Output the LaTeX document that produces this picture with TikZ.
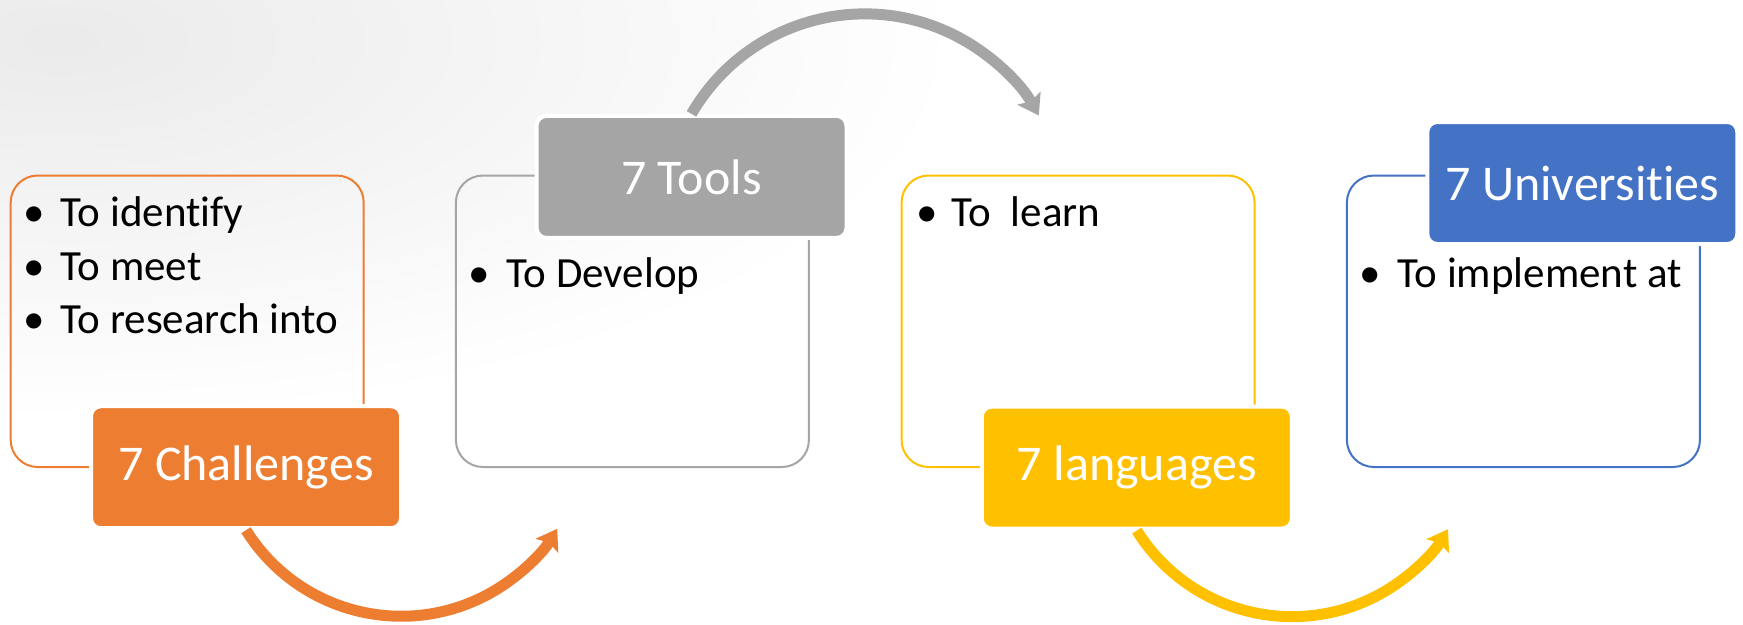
\documentclass[tikz,border=0pt]{standalone}
\usepackage{fontspec}
\setmainfont{Carlito}[Ligatures=NoCommon]
\usetikzlibrary{arrows.meta}
\definecolor{corange}{HTML}{ED7D31}
\definecolor{cgray}{HTML}{A5A5A5}
\definecolor{cyellow}{HTML}{FFC000}
\definecolor{cblue}{HTML}{4472C4}
\tikzset{
  box/.style={draw=#1, line width=2pt, rounded corners=27pt, minimum width=353pt, minimum height=291.5pt, inner sep=0pt},
  lab/.style={fill=#1, draw=white, line width=4pt, rounded corners=10pt, minimum width=310pt, minimum height=122pt, inner sep=0pt, text=white, font=\fontsize{50}{60}\selectfont},
  bul/.style={anchor=base, inner sep=0pt, font=\fontsize{43}{52}\selectfont},
  itm/.style={anchor=base west, inner sep=0pt, font=\fontsize{43}{52}\selectfont},
  arr/.style={draw=#1, line width=11pt, -{Stealth[length=20pt,width=27pt,inset=4pt,line width=0pt]}},
}
\begin{document}
\begin{tikzpicture}[x=1pt,y=1pt]
\useasboundingbox (0,0) rectangle (1743,-624);
\begin{scope}
\clip (0,0) rectangle (1743,-624);
\shade[inner color=black!8, outer color=white] (60,-40) ellipse [x radius=900pt, y radius=380pt];
\end{scope}

% boxes
\node[box=corange] (c1) at (187.2,-321.25) {};
\node[box=cgray]   (c2) at (632.4,-321.25) {};
\node[box=cyellow] (c3) at (1078.1,-321.25) {};
\node[box=cblue]   (c4) at (1523.4,-321.25) {};

% labels
\node[lab=corange] (l1) at (246,-467.2) {7 Challenges};
\node[lab=cgray]   (l2) at (691.5,-176.9) {7 Tools};
\node[lab=cyellow] (l3) at (1136.8,-467.6) {7 languages};
\node[lab=cblue]   (l4) at (1582.3,-183) {7 Universities};

% bullet texts
\node[bul] (b1a) at (34.5,-226) {•};
\node[itm] (t1a) at (60.5,-226) {To identify};
\node[bul] (b1b) at (34.5,-280) {•};
\node[itm] (t1b) at (60.5,-280) {To meet};
\node[bul] (b1c) at (34.5,-333.5) {•};
\node[itm] (t1c) at (60.5,-333.5) {To research into};

\node[bul] (b2a) at (479.5,-287) {•};
\node[itm] (t2a) at (506.4,-287) {To Develop};

\node[bul] (b3a) at (926.8,-226) {•};
\node[itm] (t3a) at (951.5,-226) {To\ \ learn};

\node[bul] (b4a) at (1369.8,-287) {•};
\node[itm] (t4a) at (1397.3,-287) {To implement at};

% arrows
\draw[arr=corange] (l1.south) arc[start angle=212, end angle=328.5, radius=183pt];
\draw[arr=cgray] (l2.north) arc[start angle=150, end angle=29.5, radius=200pt];
\draw[arr=cyellow] (l3.south) arc[start angle=212, end angle=328.5, radius=183pt];
\end{tikzpicture}
\end{document}
